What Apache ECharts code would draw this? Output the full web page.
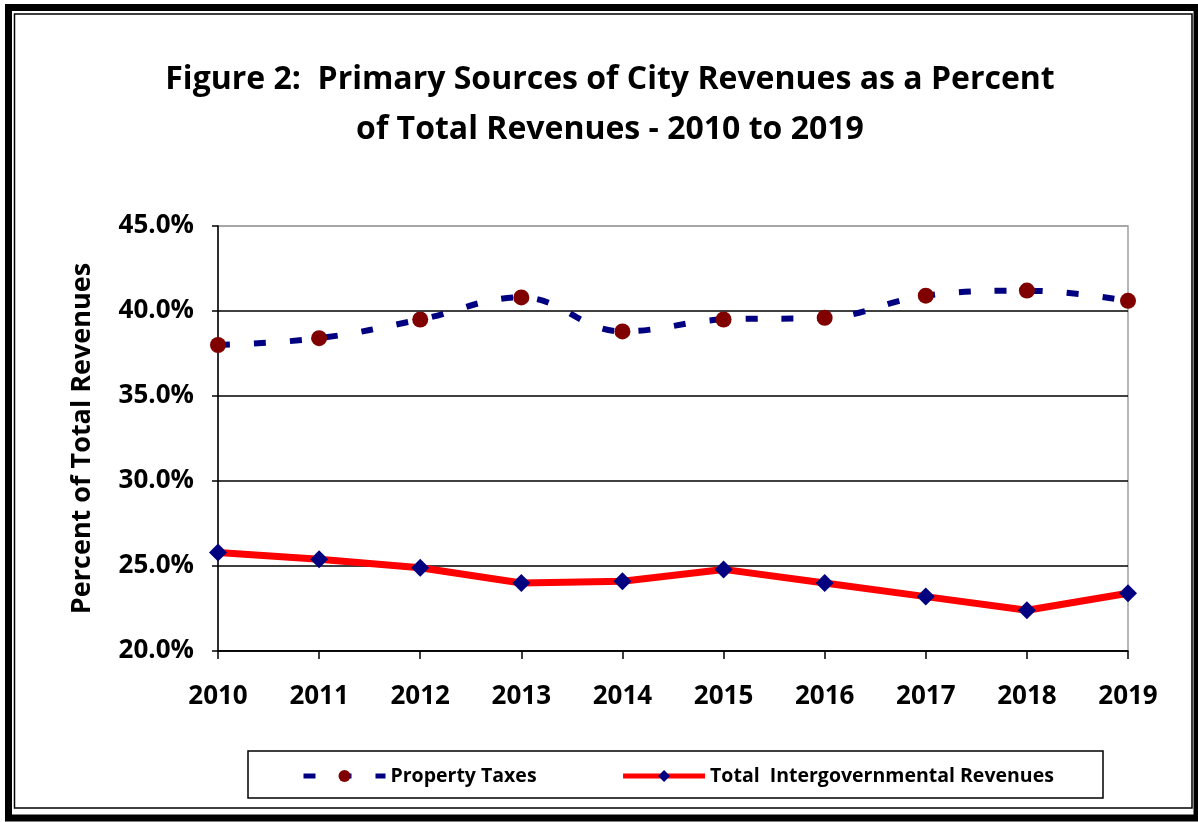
<!DOCTYPE html>
<html>
<head>
<meta charset="utf-8">
<script src="https://cdn.jsdelivr.net/npm/echarts@6/dist/echarts.min.js"></script>
<style>
  html, body { margin: 0; padding: 0; background: #fff; }
  #chart { width: 1198px; height: 822px; }
</style>
</head>
<body>
<div id="chart"></div>
<script>
// data
const years = ["2010", "2011", "2012", "2013", "2014", "2015", "2016", "2017", "2018", "2019"];
const propertyTaxes = [38.0, 38.4, 39.5, 40.8, 38.8, 39.5, 39.6, 40.9, 41.2, 40.6];
const interGov = [25.8, 25.4, 24.9, 24.0, 24.1, 24.8, 24.0, 23.2, 22.4, 23.4];
const yTicks = [20, 25, 30, 35, 40, 45];

const font = "'Open Sans', sans-serif";
const myChart = echarts.init(document.getElementById("chart"));

const option = {
  animation: false,
  backgroundColor: "#fff",
  title: {
    text: "Figure 2:  Primary Sources of City Revenues as a Percent\nof Total Revenues - 2010 to 2019",
    left: 605,
    top: 50,
    textAlign: "center",
    textStyle: {
      fontFamily: font,
      fontWeight: "bold",
      fontSize: 32,
      lineHeight: 50,
      color: "#000",
    },
  },
  // outer frame + legend box
  graphic: [
    {
      type: "rect",
      shape: { x: 8.5, y: 7.5, width: 1188.5, height: 810.5 },
      style: { fill: null, stroke: "#000", lineWidth: 7 },
      silent: true,
    },
    {
      type: "rect",
      shape: { x: 14.5, y: 14, width: 1177.5, height: 794 },
      style: { fill: null, stroke: "#000", lineWidth: 1.5 },
      silent: true,
    },
    {
      type: "rect",
      shape: { x: 248, y: 751, width: 855, height: 47 },
      style: { fill: null, stroke: "#000", lineWidth: 1.5 },
      silent: true,
    },
  ],
  legend: {
    left: 296,
    top: 761,
    itemWidth: 82,
    itemHeight: 15,
    itemGap: 84,
    lineStyle: { width: 5 },
    textStyle: {
      fontFamily: font,
      fontWeight: "bold",
      fontSize: 19.5,
      color: "#000",
    },
    data: ["Property Taxes", "Total  Intergovernmental Revenues"],
  },
  grid: {
    left: 218,
    right: 70,
    top: 226,
    bottom: 171,
    show: true,
    borderColor: "#a0a0a0",
    borderWidth: 1.5,
  },
  xAxis: {
    type: "category",
    boundaryGap: false,
    data: years,
    axisLine: { lineStyle: { color: "#000", width: 1.5 } },
    axisTick: { length: 8, lineStyle: { color: "#000", width: 1.5 } },
    axisLabel: {
      margin: 33,
      fontFamily: font,
      fontWeight: "bold",
      fontSize: 26,
      color: "#000",
    },
  },
  yAxis: {
    type: "value",
    min: 20,
    max: 45,
    interval: 5,
    name: "Percent of Total Revenues",
    nameLocation: "middle",
    nameGap: 122,
    nameTextStyle: {
      fontFamily: font,
      fontWeight: "bold",
      fontSize: 27,
      color: "#000",
    },
    axisLine: { show: true, lineStyle: { color: "#000", width: 1.5 } },
    axisTick: { show: true, length: 6, lineStyle: { color: "#000", width: 1.5 } },
    axisLabel: {
      margin: 24,
      fontFamily: font,
      fontWeight: "bold",
      fontSize: 26,
      color: "#000",
      formatter: (v) => v.toFixed(1) + "%",
    },
    splitLine: {
      lineStyle: {
        color: yTicks.map((t) => (t === 45 ? "#a0a0a0" : "#000")),
        width: 1.5,
      },
    },
  },
  series: [
    {
      name: "Property Taxes",
      type: "line",
      data: propertyTaxes,
      smooth: 0.4,
      symbol: "circle",
      symbolSize: 16,
      lineStyle: { color: "#000080", width: 6, type: [12, 24] },
      itemStyle: { color: "#800000" },
      z: 3,
    },
    {
      name: "Total  Intergovernmental Revenues",
      type: "line",
      data: interGov,
      symbol: "diamond",
      symbolSize: [18, 18],
      lineStyle: { color: "#ff0000", width: 7 },
      itemStyle: { color: "#000080" },
      z: 3,
    },
  ],
};

myChart.setOption(option);
</script>
</body>
</html>
